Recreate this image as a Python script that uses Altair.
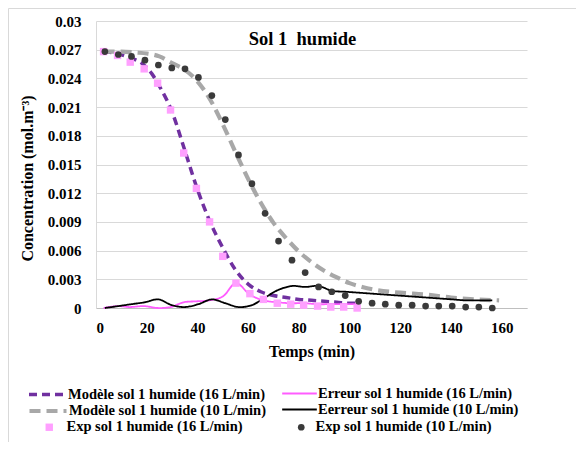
import altair as alt
import pandas as pd

FONT = "Liberation Serif"

N_M16 = "Modèle sol 1 humide (16 L/min)"
N_E16 = "Erreur sol 1 humide (16 L/min)"
N_M10 = "Modèle sol 1 humide (10 L/min)"
N_E10 = "Eerreur sol 1 humide (10 L/min)"
N_X16 = "Exp sol 1 humide (16 L/min)"
N_X10 = "Exp sol 1 humide (10 L/min)"
TITLE = "Sol 1\u00a0 humide"

# Model 16 L/min (purple dashed)
t_m16 = [3, 8, 13, 18, 22, 25, 30, 35, 40, 45, 50, 55, 60, 65, 70, 75, 80, 85, 90, 95, 100, 103]
c_m16 = [0.0268, 0.0266, 0.0262, 0.0256, 0.0245, 0.0232, 0.0205, 0.0165, 0.0124, 0.0090, 0.0063,
         0.0040, 0.0025, 0.0017, 0.0013, 0.0011, 0.0009, 0.0008, 0.0007, 0.0006, 0.0005, 0.0005]

# Model 10 L/min (grey dashed)
t_m10 = [3, 10, 16, 20, 25, 30, 35, 40, 45, 50, 55, 60, 65, 70, 75, 80, 85, 90, 95, 100, 105,
         110, 120, 130, 140, 150, 159]
c_m10 = [0.0268, 0.0268, 0.0267, 0.0266, 0.0263, 0.0256, 0.0249, 0.0237, 0.0218, 0.0192, 0.0163,
         0.0135, 0.0110, 0.0089, 0.0073, 0.0059, 0.0048, 0.0039, 0.0032, 0.0026, 0.0022,
         0.0019, 0.0016, 0.0014, 0.0011, 0.0009, 0.0008]

# Experimental 16 L/min (pink squares) and its error
t_x16 = [3, 8.5, 13.5, 19, 24.3, 29.4, 34.6, 39.6, 44.8, 50, 55.2, 60.7, 66, 71.5, 76.8, 81.9,
         87.4, 92.6, 97.7, 103]
c_x16 = [0.0268, 0.0264, 0.0257, 0.0250, 0.0235, 0.0207, 0.0162, 0.0125, 0.0090, 0.0054, 0.0026,
         0.0015, 0.0009, 0.0005, 0.0004, 0.0003, 0.0002, 0.0001, 0.0001, 0.0000]
e_x16 = [0.0000, 0.0002, 0.0001, 0.0002, 0.0000, 0.0001, 0.0006, 0.0007, 0.0008, 0.0012, 0.0026,
         0.0014, 0.0008, 0.0006, 0.0005, 0.0005, 0.0004, 0.0004, 0.0004, 0.0004]

# Experimental 10 L/min (dark dots) and its error
t_x10 = [3.5, 8.8, 14, 19.3, 24.6, 29.9, 35.1, 40.4, 45.7, 51, 56.2, 61.5, 66.7, 72, 77.3, 82.5,
         87.8, 93, 98.3, 103.6, 108.9, 114.1, 119.4, 124.7, 130, 135.2, 140.5, 145.8, 151, 156.3]
c_x10 = [0.0268, 0.0265, 0.0263, 0.0259, 0.0254, 0.0251, 0.0250, 0.0241, 0.0222, 0.0197, 0.0160,
         0.0130, 0.0099, 0.0070, 0.0050, 0.0037, 0.0022, 0.0017, 0.0013, 0.0007, 0.0005, 0.0004,
         0.0003, 0.0003, 0.0002, 0.0002, 0.0002, 0.0001, 0.0001, 0.0000]
e_x10 = [0.0000, 0.0002, 0.0004, 0.0006, 0.0009, 0.0003, 0.0001, 0.0004, 0.0009, 0.0005, 0.0001,
         0.0003, 0.0011, 0.0019, 0.0023, 0.0022, 0.0023, 0.0018, 0.0017, 0.0016, 0.0015, 0.0014,
         0.0013, 0.0012, 0.0011, 0.0010, 0.0009, 0.0008, 0.0008, 0.0008]

x_ticks = [0, 20, 40, 60, 80, 100, 120, 140, 160]
y_ticks = [0, 0.003, 0.006, 0.009, 0.012, 0.015, 0.018, 0.021, 0.024, 0.027, 0.03]

C_M16, C_M10 = "#7030A0", "#A8A8A8"
C_E16, C_E10 = "#FF5CFF", "#000000"
C_X16, C_X10 = "#FFA0FF", "#3A3A3A"


def frame(name, t, c):
    return pd.DataFrame({"series": name, "t": t, "c": c})


W, H = 431, 287

x_enc = alt.X("t:Q", scale=alt.Scale(domain=[0, 170], nice=False),
              axis=alt.Axis(values=x_ticks, title="Temps (min)", grid=False, labelPadding=12,
                            titlePadding=8, domainColor="#BFBFBF"))
y_enc = alt.Y("c:Q", scale=alt.Scale(domain=[0, 0.03], nice=False),
              axis=alt.Axis(values=y_ticks, format=".3~f", title="Concentration (mol.m⁻³)",
                            grid=True, labelPadding=15, titleX=-69, titleY=157,
                            titleAngle=-90, titleAlign="center", titleBaseline="middle",
                            domainColor="#D9D9D9"))

LEG = dict(title=None, orient="none", padding=0, labelFont=FONT, labelFontSize=14.5,
           labelFontWeight="bold", labelColor="#000000", labelLimit=400)


def color_enc(name, col, legend):
    return alt.Color("series:N", scale=alt.Scale(domain=[name], range=[col]), legend=legend)


def line_layer(name, t, c, col, dash, width, interp, lx, ly, lsize):
    leg = alt.Legend(legendX=lx, legendY=ly, symbolType="stroke", symbolSize=lsize,
                     symbolStrokeWidth=width, symbolDash=dash, symbolStrokeColor=col,
                     labelOffset=0, **LEG)
    return alt.Chart(frame(name, t, c)).mark_line(
        interpolate=interp, strokeDash=dash, strokeWidth=width).encode(
        x=x_enc, y=y_enc, color=color_enc(name, col, leg))


def point_layer(name, t, c, col, shp, size, lx, ly, loff):
    leg = alt.Legend(legendX=lx, legendY=ly, symbolType=shp, symbolSize=size,
                     symbolFillColor=col, symbolStrokeWidth=0, labelOffset=loff, **LEG)
    return alt.Chart(frame(name, t, c)).mark_point(
        filled=True, opacity=1, shape=shp, size=size).encode(
        x=x_enc, y=y_enc, color=color_enc(name, col, leg))


m16 = line_layer(N_M16, t_m16, c_m16, C_M16, [8, 5], 3.5, "monotone", -69, 353, 1369)
m10 = line_layer(N_M10, t_m10, c_m10, C_M10, [11, 6], 4.2, "monotone", -69, 369, 1369)
e16 = line_layer(N_E16, t_x16, e_x16, C_E16, [1, 0], 1.8, "catmull-rom", 185, 354, 1200)
e10 = line_layer(N_E10, t_x10, e_x10, C_E10, [1, 0], 1.8, "catmull-rom", 185, 370, 1200)
p16 = point_layer(N_X16, t_x16, c_x16, C_X16, "square", 55, -54, 399, 10)
p10 = point_layer(N_X10, t_x10, c_x10, C_X10, "circle", 45, 198, 399, 7)

deco = alt.Data(values=[{"a": 1}])
top_border = alt.Chart(deco).mark_rule(color="#D9D9D9", strokeWidth=1).encode(
    x=alt.value(-87.5), x2=alt.value(W + 60), y=alt.value(-12.5))
left_border = alt.Chart(deco).mark_rule(color="#D9D9D9", strokeWidth=1).encode(
    x=alt.value(-87.5), y=alt.value(-12.5), y2=alt.value(H + 140))
title = alt.Chart(deco).mark_text(font=FONT, fontSize=18.5, fontWeight="bold", color="#000000",
                                  align="center", baseline="alphabetic").encode(
    x=alt.value(W / 2 - 9), y=alt.value(24), text=alt.value(TITLE))

chart = alt.layer(top_border, left_border, title, m16, m10, e16, e10, p16, p10).resolve_scale(
    color="independent"
).properties(
    width=W, height=H,
    autosize=alt.AutoSizeParams(type="none"),
    padding={"left": 88, "top": 13, "right": 49, "bottom": 134},
    background="white",
).configure_view(stroke=None).configure_axis(
    labelFont=FONT, labelFontSize=15, labelFontWeight="bold", labelColor="#000000",
    titleFont=FONT, titleFontSize=16, titleFontWeight="bold", titleColor="#000000",
    ticks=False, gridColor="#D9D9D9", gridWidth=1,
)

chart.save("out.html", embed_options={"renderer": "svg", "actions": False})
